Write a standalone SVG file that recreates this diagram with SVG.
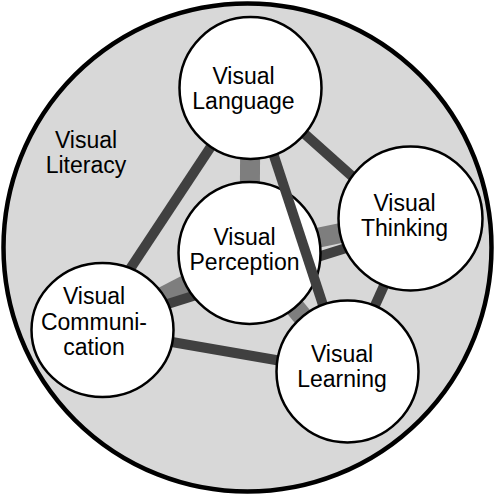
<svg xmlns="http://www.w3.org/2000/svg" width="495" height="495" viewBox="0 0 495 495">
<style>
.bg{fill:#d8d8d8;stroke:#000;stroke-width:4.5}
.node{fill:#fff;stroke:#000;stroke-width:2.5}
.gray{stroke:#7e7e7e;stroke-width:20;fill:none}
.dark{stroke:#404040;stroke-width:10;fill:none}
text{font-family:"Liberation Sans",Arial,sans-serif;font-size:23px;fill:#000;text-anchor:middle}
</style>
<rect width="495" height="495" fill="#fff"/>
<g id="literacy">
<circle class="bg" cx="247.5" cy="247.5" r="244"/>
<text x="86" y="148">Visual</text>
<text x="86" y="172.5">Literacy</text>
</g>
<g id="connectors">
<line class="gray" x1="249.5" y1="252" x2="250.5" y2="88"/>
<line class="gray" x1="249.5" y1="252" x2="410.5" y2="218.5"/>
<line class="gray" x1="249.5" y1="252" x2="103" y2="328"/>
<line class="gray" x1="249.5" y1="252" x2="347.5" y2="371.5"/>
<line class="dark" x1="91" y1="328" x2="410" y2="228"/>
<line class="dark" x1="251" y1="86" x2="91" y2="328"/>
<line class="dark" x1="251" y1="86" x2="410" y2="228"/>
<line class="dark" x1="91" y1="328" x2="345" y2="372"/>
<line class="dark" x1="410" y1="228" x2="345" y2="372"/>
</g>
<g id="perception">
<circle class="node" cx="249.5" cy="253" r="71"/>
<text x="244.5" y="245">Visual</text>
<text x="244.5" y="269.5">Perception</text>
</g>
<g id="connector-language-learning">
<line class="dark" x1="251" y1="86" x2="345" y2="372"/>
</g>
<g id="language">
<circle class="node" cx="250.5" cy="88" r="71"/>
<text x="243.5" y="84">Visual</text>
<text x="243.5" y="109">Language</text>
</g>
<g id="thinking">
<circle class="node" cx="410.5" cy="218.5" r="72"/>
<text x="404.5" y="211">Visual</text>
<text x="404.5" y="235.5">Thinking</text>
</g>
<g id="communication">
<ellipse class="node" cx="102.5" cy="330" rx="71" ry="67"/>
<text x="94" y="304">Visual</text>
<text x="94" y="329.5">Communi-</text>
<text x="94" y="355">cation</text>
</g>
<g id="learning">
<circle class="node" cx="347.5" cy="371.5" r="71"/>
<text x="342" y="362">Visual</text>
<text x="342" y="387">Learning</text>
</g>
</svg>
